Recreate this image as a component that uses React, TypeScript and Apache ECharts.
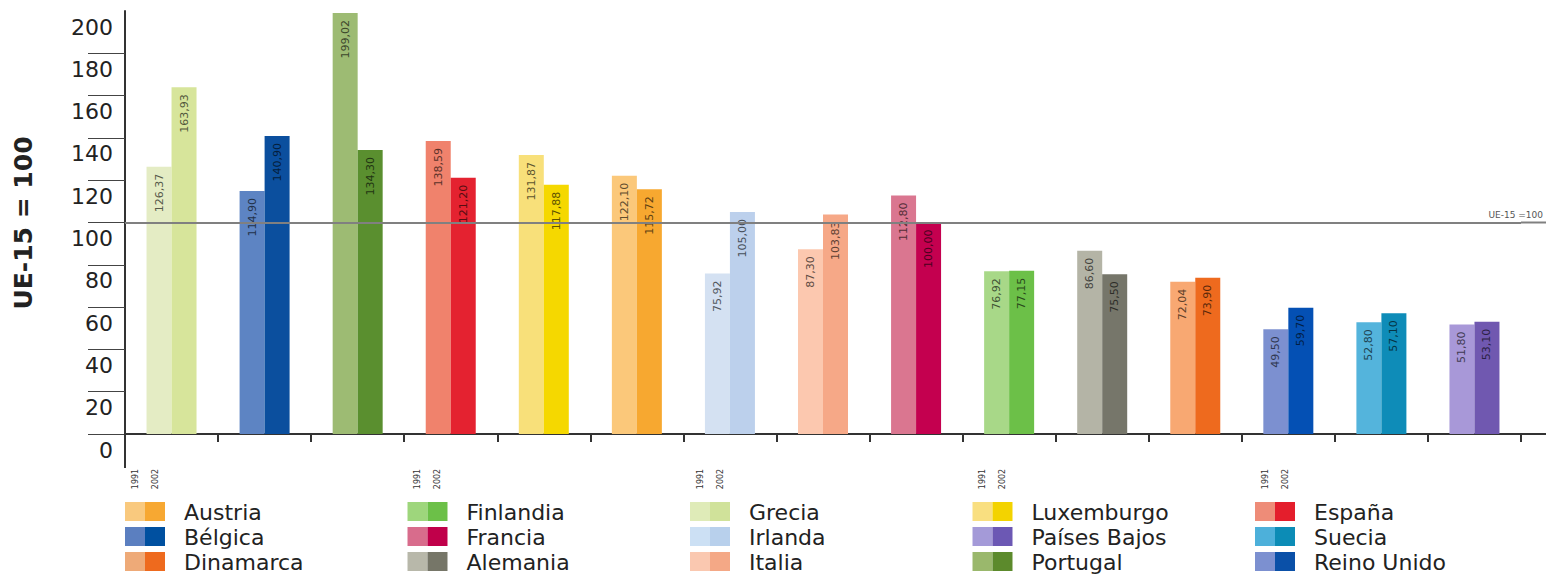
import React, { useEffect, useRef } from "react";
import * as echarts from "echarts";

// ---- data ----
const categories = [
  "Grecia", "Bélgica", "Portugal", "España", "Luxemburgo", "Austria", "Irlanda", "Italia",
  "Francia", "Finlandia", "Alemania", "Dinamarca", "Reino Unido", "Suecia", "Países Bajos",
];
const values1991 = [126.37, 114.9, 199.02, 138.59, 131.87, 122.1, 75.92, 87.3, 112.8, 76.92, 86.6, 72.04, 49.5, 52.8, 51.8];
const values2002 = [163.93, 140.9, 134.3, 121.2, 117.88, 115.72, 105.0, 103.83, 100.0, 77.15, 75.5, 73.9, 59.7, 57.1, 53.1];
const colors1991 = [
  "#E4ECC4", "#5D84C3", "#9DBB73", "#F0826C", "#F8E07A", "#FBC87A", "#D4E1F2", "#FCC8AF",
  "#DA7690", "#A8D888", "#B4B4A6", "#F8A872", "#7C90D0", "#54B4DC", "#A898D8",
];
const colors2002 = [
  "#D7E59B", "#0B4F9E", "#5A8F2F", "#E42230", "#F5D800", "#F7A830", "#BCD0EC", "#F6A887",
  "#C4004F", "#6CC048", "#76766A", "#EE6A1E", "#0450B4", "#0E8CB8", "#7058B0",
];
const refValue = 100;
const refLabel = "UE-15 =100";
const yTitle = "UE-15 = 100";
const yearLabels = ["1991", "2002"];

const legendNames = [
  "Austria", "Bélgica", "Dinamarca",
  "Finlandia", "Francia", "Alemania",
  "Grecia", "Irlanda", "Italia",
  "Luxemburgo", "Países Bajos", "Portugal",
  "España", "Suecia", "Reino Unido",
];
const legendLight = [
  "#F9C97E", "#5B7FC0", "#EEAA78",
  "#9ED67C", "#D86C8C", "#B8B8AA",
  "#DFEBB8", "#CCE0F4", "#FAC8B0",
  "#F9DF80", "#A49AD8", "#9AB86C",
  "#EE8C78", "#4DB0DA", "#7C90D0",
];
const legendDark = [
  "#F7A832", "#0050A0", "#EE6A1E",
  "#6CC048", "#C0004A", "#767668",
  "#D0E29A", "#B8D0EC", "#F4A886",
  "#F3D300", "#6C58B4", "#5C8A2C",
  "#E41E2C", "#0C8CB6", "#0A50A8",
];

// ---- layout ----
const W = 1546;
const H = 576;
const GRID = { left: 125, right: 25, top: 11, bottom: 142 };
const FONT = '"DejaVu Sans", Verdana, sans-serif';

function darken(hex: string, f: number) {
  const n = parseInt(hex.slice(1), 16);
  const r = Math.round(((n >> 16) & 255) * f);
  const g = Math.round(((n >> 8) & 255) * f);
  const b = Math.round((n & 255) * f);
  return `rgb(${r},${g},${b})`;
}

function fmt(v: number) {
  return v.toFixed(2).replace(".", ",");
}

function barData(vals: number[], cols: string[]) {
  return vals.map((v, i) => ({
    value: v,
    itemStyle: { color: cols[i] },
    label: { color: darken(cols[i], 0.38) },
  }));
}

function buildLegend() {
  const g: any[] = [];
  const colGap = 282.5;
  for (let c = 0; c < 5; c++) {
    const x0 = GRID.left + c * colGap;
    yearLabels.forEach((yl, j) => {
      g.push({
        type: "text",
        x: x0 + 10 + j * 20,
        y: 479,
        rotation: Math.PI / 2,
        style: { text: yl, font: `8px ${FONT}`, fill: "#333", textAlign: "center", textVerticalAlign: "middle" },
      });
    });
  }
  legendNames.forEach((name, k) => {
    const col = Math.floor(k / 3);
    const row = k % 3;
    const x0 = GRID.left + col * colGap;
    const y0 = 502 + row * 25;
    g.push({ type: "rect", shape: { x: x0, y: y0, width: 20, height: 19 }, style: { fill: legendLight[k] } });
    g.push({ type: "rect", shape: { x: x0 + 20, y: y0, width: 20, height: 19 }, style: { fill: legendDark[k] } });
    g.push({
      type: "text",
      x: x0 + 59,
      y: y0 + 10,
      style: { text: name, font: `22px ${FONT}`, fill: "#222", textAlign: "left", textVerticalAlign: "middle" },
    });
  });
  return g;
}

export default function App() {
  const ref = useRef<HTMLDivElement>(null);
  useEffect(() => {
    if (!ref.current) return;
    const chart = echarts.init(ref.current, null, { renderer: "svg" });
    const labelCfg = {
      show: true,
      position: "insideTop",
      rotate: 90,
      align: "right",
      verticalAlign: "middle",
      distance: 7,
      fontSize: 11,
      fontFamily: FONT,
      formatter: (p: any) => fmt(p.value),
    };
    chart.setOption({
      animation: false,
      backgroundColor: "#ffffff",
      grid: GRID,
      xAxis: {
        type: "category",
        data: categories,
        axisLine: { show: true, lineStyle: { color: "#333", width: 2 } },
        axisTick: { show: true, length: 8, lineStyle: { color: "#333", width: 2 } },
        axisLabel: { show: false },
        splitLine: { show: false },
      },
      yAxis: {
        type: "value",
        min: 0,
        max: 200,
        interval: 20,
        axisLine: { show: true, lineStyle: { color: "#333", width: 2 } },
        axisTick: {
          show: true,
          length: 37,
          lineStyle: { color: "#444", width: 1 },
          customValues: [0, 20, 40, 60, 80, 100, 120, 140, 160, 180],
        },
        axisLabel: {
          fontSize: 22,
          fontFamily: FONT,
          color: "#222",
          margin: 12,
          verticalAlign: "top",
          lineHeight: 22,
          padding: [5, 0, 0, 0],
        },
        splitLine: { show: false },
      },
      series: [
        {
          name: "1991",
          type: "bar",
          barWidth: 25,
          barGap: "0%",
          data: barData(values1991, colors1991),
          label: labelCfg,
          markLine: {
            silent: true,
            symbol: "none",
            label: { show: false },
            lineStyle: { color: "#808080", width: 2, type: "solid" },
            data: [{ yAxis: refValue }],
          },
        },
        {
          name: "2002",
          type: "bar",
          barWidth: 25,
          barGap: "0%",
          data: barData(values2002, colors2002),
          label: labelCfg,
        },
      ],
    });

    const y100 = chart.convertToPixel({ yAxisIndex: 0 }, refValue) as number;
    const y0 = chart.convertToPixel({ yAxisIndex: 0 }, 0) as number;
    const xRight = chart.getWidth() - GRID.right;
    const graphics: any[] = [
      {
        type: "text",
        x: 23,
        y: 223,
        rotation: Math.PI / 2,
        style: { text: yTitle, font: `bold 25px ${FONT}`, fill: "#222", textAlign: "center", textVerticalAlign: "middle" },
      },
      { type: "line", shape: { x1: xRight, y1: y100, x2: W, y2: y100 }, style: { stroke: "#808080", lineWidth: 2 } },
      {
        type: "text",
        x: W - 3,
        y: y100 - 8,
        style: { text: refLabel, font: `9px ${FONT}`, fill: "#555", textAlign: "right", textVerticalAlign: "middle" },
      },
      { type: "line", shape: { x1: xRight, y1: y0, x2: W, y2: y0 }, style: { stroke: "#333", lineWidth: 2 } },
      { type: "line", shape: { x1: GRID.left, y1: y0, x2: GRID.left, y2: 468 }, style: { stroke: "#333", lineWidth: 2 } },
      ...buildLegend(),
    ];
    chart.setOption({ graphic: graphics });
    return () => chart.dispose();
  }, []);
  return (
    <div
      ref={ref}
      style={{ position: "fixed", left: 0, top: 0, width: W, height: H, background: "#fff" }}
    />
  );
}
